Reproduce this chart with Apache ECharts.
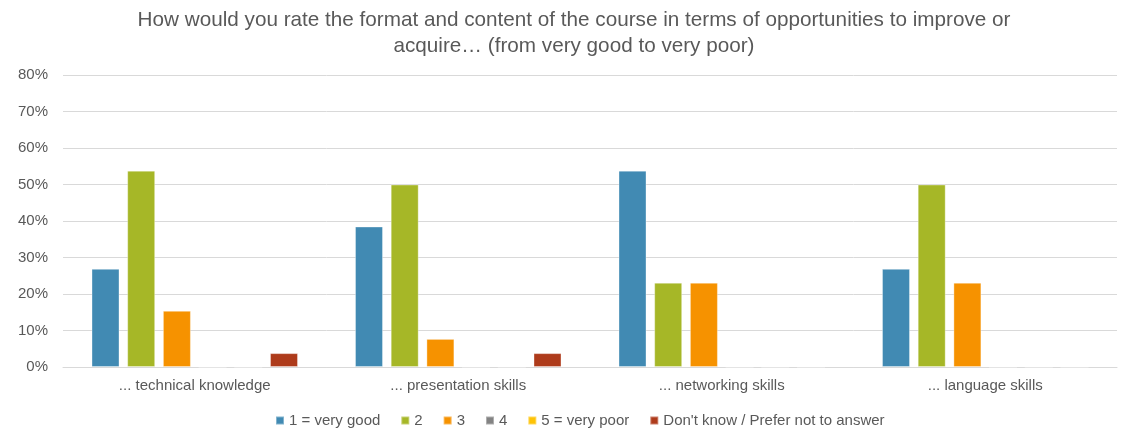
<!DOCTYPE html>
<html>
<head>
<meta charset="utf-8">
<script src="https://cdn.jsdelivr.net/npm/echarts@6/dist/echarts.min.js"></script>
<style>
  html, body { margin: 0; padding: 0; background: #fff; }
  #chart { width: 1125px; height: 430px; }
</style>
</head>
<body>
<div id="chart"></div>
<script>
// Survey categories and the share of answers per rating (percent)
const categories = ['... technical knowledge', '... presentation skills', '... networking skills', '... language skills'];
const seriesNames = ['1 = very good', '2', '3', '4', '5 = very poor', "Don't know / Prefer not to answer"];
const veryGood = [26.9, 38.5, 53.8, 26.9];
const good = [53.8, 50.0, 23.1, 50.0];
const neutral = [15.4, 7.7, 23.1, 23.1];
const poor = [0, 0, 0, 0];
const veryPoor = [0, 0, 0, 0];
const dontKnow = [3.8, 3.8, 0, 0];
const yTicks = [0, 10, 20, 30, 40, 50, 60, 70, 80];

const colors = ['#418AB3', '#A6B727', '#F69200', '#838383', '#FEC306', '#AE3B1B'];
const values = [veryGood, good, neutral, poor, veryPoor, dontKnow];

const chart = echarts.init(document.getElementById('chart'), null, { renderer: 'canvas' });
const font = '"Liberation Sans", Arial, sans-serif';

chart.setOption({
  animation: false,
  color: colors,
  title: {
    text: 'How would you rate the format and content of the course in terms of opportunities to improve or\nacquire… (from very good to very poor)',
    left: 569,
    top: 2,
    textAlign: 'center',
    textStyle: { fontFamily: font, fontSize: 20.7, fontWeight: 'normal', color: '#595959', lineHeight: 26 }
  },
  legend: {
    top: 413,
    left: 275,
    padding: 0,
    itemWidth: 8,
    itemHeight: 8,
    itemGap: 20,
    icon: 'rect',
    textStyle: { fontFamily: font, fontSize: 15, color: '#595959' },
    data: seriesNames
  },
  grid: { left: 63, right: 8, top: 75, bottom: 63, containLabel: false },
  xAxis: {
    type: 'category',
    data: categories,
    axisTick: { show: false },
    axisLine: { lineStyle: { color: '#D9D9D9', width: 1 } },
    axisLabel: { fontFamily: font, fontSize: 15, color: '#595959', margin: 11 }
  },
  yAxis: {
    type: 'value',
    min: yTicks[0],
    max: yTicks[yTicks.length - 1],
    interval: 10,
    axisLine: { show: false },
    axisTick: { show: false },
    splitLine: { lineStyle: { color: '#D9D9D9', width: 1 } },
    axisLabel: { fontFamily: font, fontSize: 15, color: '#595959', margin: 15, formatter: v => v + '%' }
  },
  series: seriesNames.map((name, i) => ({
    name,
    type: 'bar',
    data: values[i],
    barWidth: 28,
    barGap: '27.5%',
    itemStyle: { color: colors[i], borderColor: 'rgba(255,255,255,0.35)', borderWidth: 1 }
  }))
});
</script>
</body>
</html>
